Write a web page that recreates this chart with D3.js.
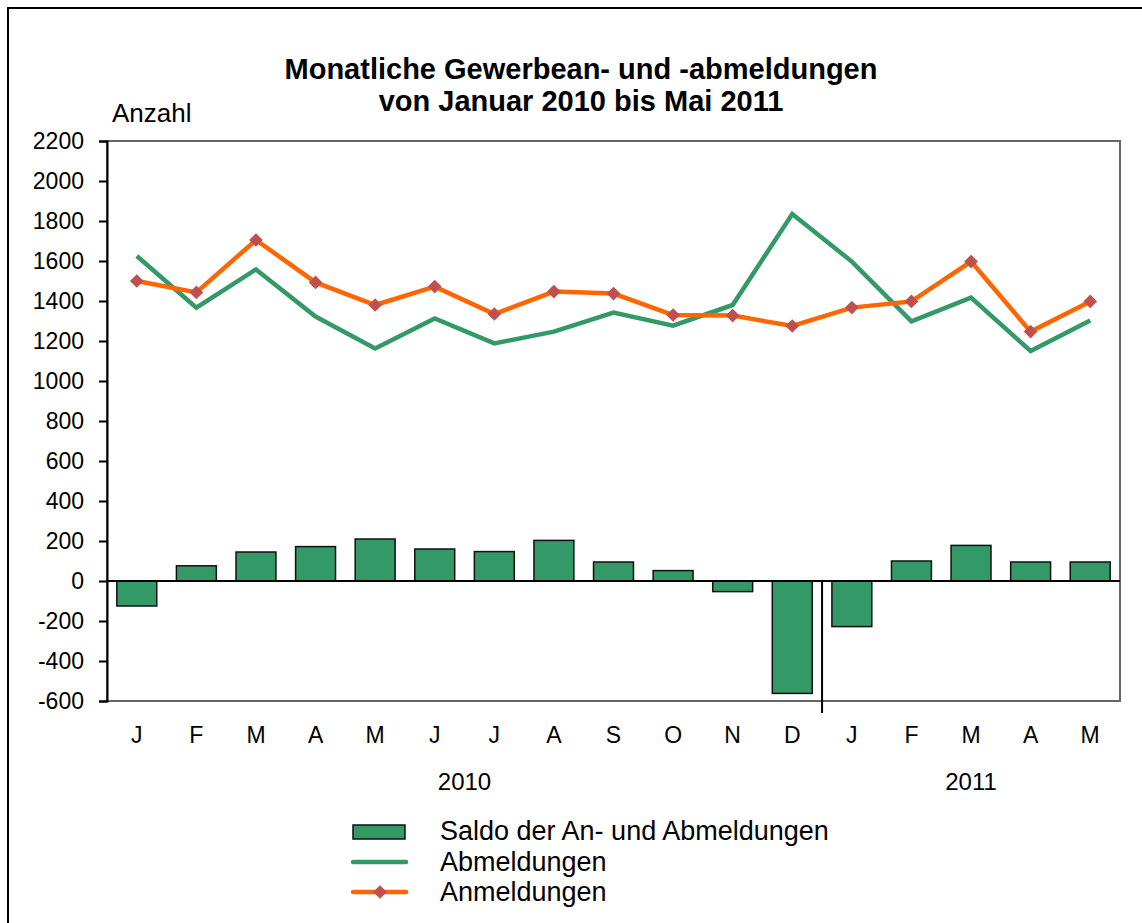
<!DOCTYPE html>
<html><head><meta charset="utf-8">
<script src="https://cdn.jsdelivr.net/npm/d3@7"></script>
<style>body{margin:0;background:#fff}svg{display:block;font-family:"Liberation Sans",Arial,sans-serif}</style>
</head><body>
<script>
const months = ["J","F","M","A","M","J","J","A","S","O","N","D","J","F","M","A","M"];
const saldo = [-125,76,145,172,210,160,147,203,95,52,-53,-562,-228,100,178,95,95];
const abmeldungen = [1625,1367,1558,1322,1163,1313,1188,1247,1342,1277,1380,1835,1597,1298,1417,1150,1302];
const anmeldungen = [1500,1443,1705,1493,1380,1472,1335,1447,1437,1330,1327,1275,1367,1398,1597,1247,1398];
const yTicks = [-600,-400,-200,0,200,400,600,800,1000,1200,1400,1600,1800,2000,2200];
const years = [{label:"2010", from:0, to:11},{label:"2011", from:12, to:16}];
const legendItems = ["Saldo der An- und Abmeldungen","Abmeldungen","Anmeldungen"];

const W=1142,H=923;
const svg=d3.select("body").append("svg").attr("width",W).attr("height",H);
svg.append("rect").attr("x",8).attr("y",8).attr("width",W).attr("height",H).attr("fill","#fff").attr("stroke","#000").attr("stroke-width",2);

const L=107,R=1120,T=141,B=701;
const n=months.length;
const step=(R-L)/n;
const xc=i=>L+step*(i+0.5);
const y=d3.scaleLinear().domain([-600,2200]).range([B,T]);

svg.append("text").attr("x",581).attr("y",79).attr("text-anchor","middle").attr("font-size",29).attr("font-weight","bold").text("Monatliche Gewerbean- und -abmeldungen");
svg.append("text").attr("x",581).attr("y",111).attr("text-anchor","middle").attr("font-size",29).attr("font-weight","bold").text("von Januar 2010 bis Mai 2011");
svg.append("text").attr("x",112).attr("y",122).attr("font-size",26).text("Anzahl");

// frame
svg.append("rect").attr("x",L).attr("y",T).attr("width",R-L).attr("height",B-T).attr("fill","none").attr("stroke","#666").attr("stroke-width",2);

// y axis
const ya=svg.append("g").attr("transform",`translate(${L},0)`).call(d3.axisLeft(y).tickValues(yTicks).tickSize(8).tickPadding(15).tickFormat(d=>String(d)));
ya.select(".domain").attr("stroke","#000").attr("stroke-width",2);
ya.selectAll(".tick line").attr("stroke","#000").attr("stroke-width",2);
ya.selectAll(".tick text").attr("font-size",23).attr("font-family","Liberation Sans, Arial, sans-serif").attr("fill","#000");

// bars
const bw=step*0.67;
svg.append("g").selectAll("rect").data(saldo).join("rect")
 .attr("x",(d,i)=>xc(i)-bw/2).attr("width",bw)
 .attr("y",d=>y(Math.max(0,d))).attr("height",d=>Math.abs(y(d)-y(0)))
 .attr("fill","#339966").attr("stroke","#111").attr("stroke-width",1.5);

// zero line
svg.append("line").attr("x1",L).attr("x2",R).attr("y1",y(0)).attr("y2",y(0)).attr("stroke","#000").attr("stroke-width",2);
// year separator
const sepX=L+step*12;
svg.append("line").attr("x1",sepX).attr("x2",sepX).attr("y1",y(0)).attr("y2",B+12).attr("stroke","#000").attr("stroke-width",2);

// lines
const line=d3.line().x((d,i)=>xc(i)).y(d=>y(d));
svg.append("path").datum(abmeldungen).attr("d",line).attr("fill","none").attr("stroke","#339966").attr("stroke-width",4.5);
svg.append("path").datum(anmeldungen).attr("d",line).attr("fill","none").attr("stroke","#FF6600").attr("stroke-width",4.5);
const diamond=d3.symbol().type(d3.symbolDiamond2).size(120);
svg.append("g").selectAll("path").data(anmeldungen).join("path")
 .attr("transform",(d,i)=>`translate(${xc(i)},${y(d)})`).attr("d",diamond).attr("fill","#C0504D");

// x labels
svg.append("g").selectAll("text").data(months).join("text")
 .attr("x",(d,i)=>xc(i)).attr("y",743).attr("text-anchor","middle").attr("font-size",23).text(d=>d);
svg.append("g").selectAll("text").data(years).join("text")
 .attr("x",d=>(xc(d.from)+xc(d.to))/2).attr("y",790).attr("text-anchor","middle").attr("font-size",24).text(d=>d.label);

// legend
const lg=svg.append("g");
lg.append("rect").attr("x",353).attr("y",825).attr("width",52).attr("height",14).attr("fill","#339966").attr("stroke","#111").attr("stroke-width",1.5);
lg.append("line").attr("x1",353).attr("x2",406).attr("y1",862).attr("y2",862).attr("stroke","#339966").attr("stroke-width",4.5).attr("stroke-linecap","round");
lg.append("line").attr("x1",353).attr("x2",406).attr("y1",892).attr("y2",892).attr("stroke","#FF6600").attr("stroke-width",4.5).attr("stroke-linecap","round");
lg.append("path").attr("transform","translate(380,892)").attr("d",diamond).attr("fill","#C0504D");
lg.selectAll("text").data(legendItems).join("text").attr("x",440).attr("y",(d,i)=>840+i*30.5).attr("font-size",27).text(d=>d);
</script>
</body></html>
